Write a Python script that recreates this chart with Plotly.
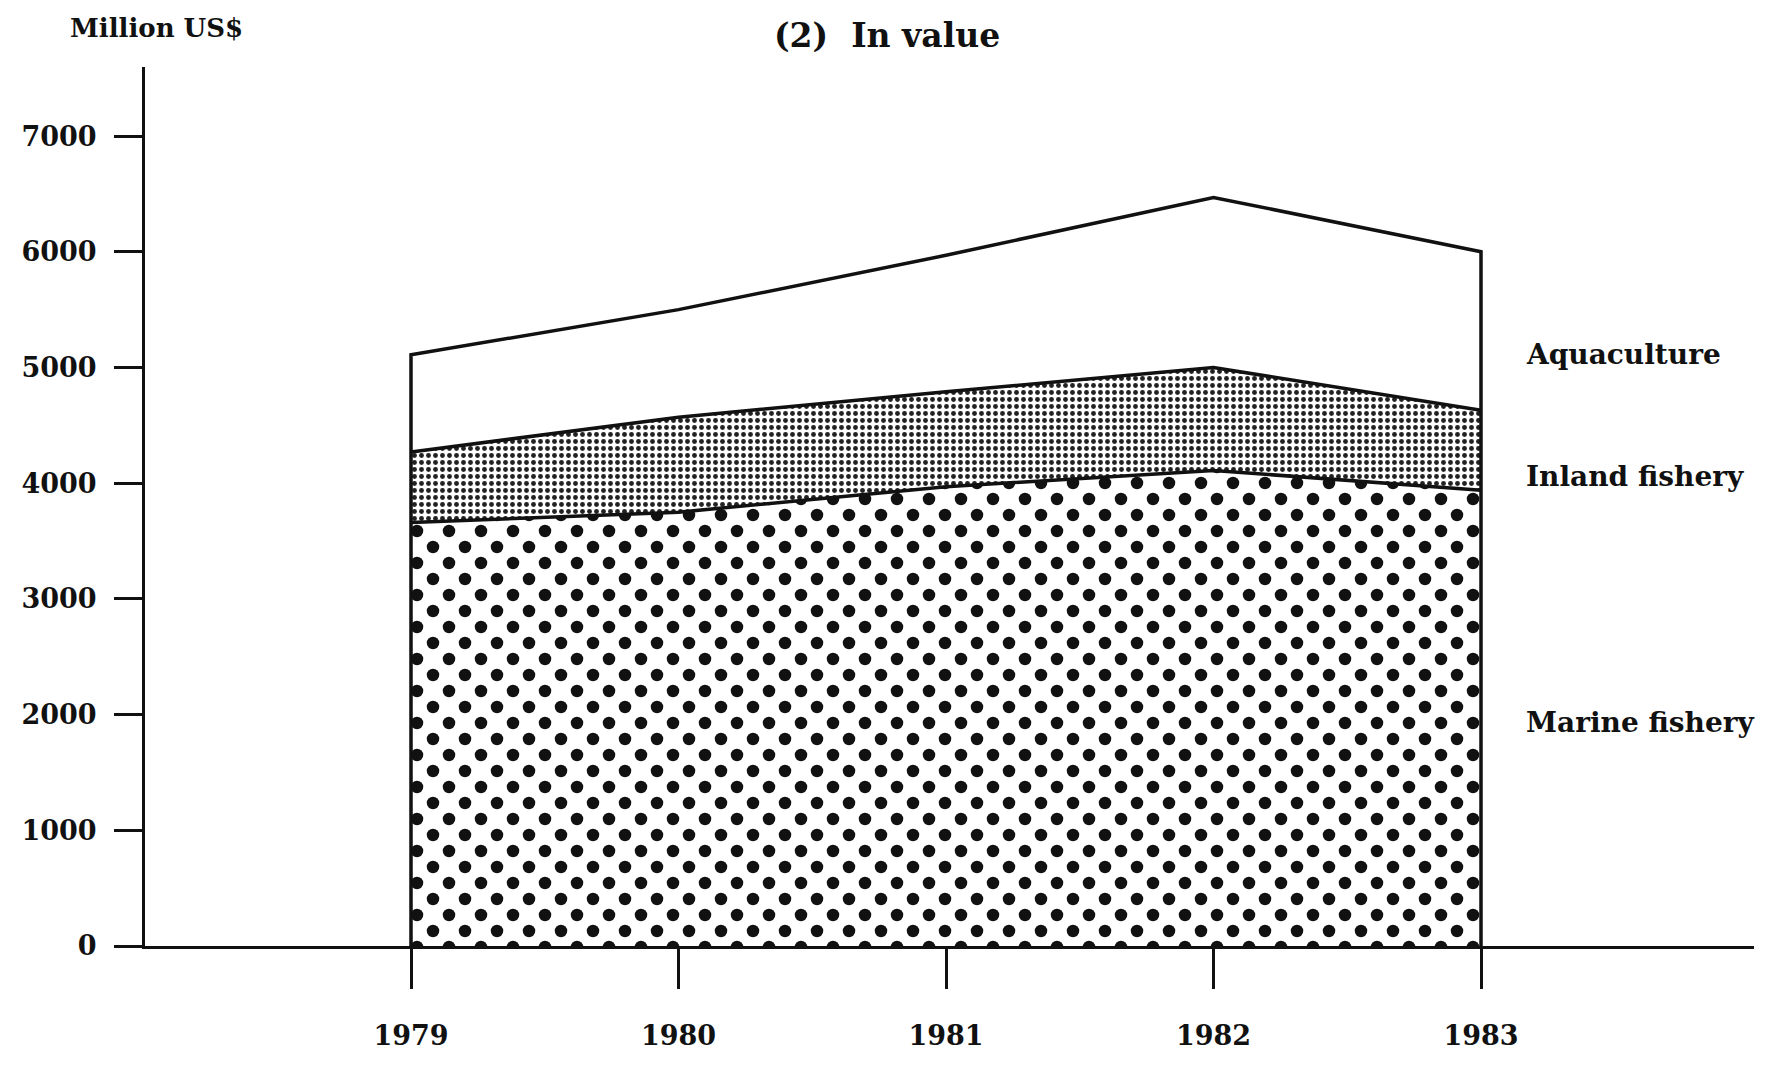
import plotly.graph_objects as go

# Data (million US$) ----------------------------------------------------------
YEARS = [1979, 1980, 1981, 1982, 1983]
MARINE = [3660, 3750, 3970, 4110, 3940]
INLAND = [610, 820, 820, 890, 690]
AQUA = [840, 930, 1180, 1470, 1370]
Y_TICKS = [0, 1000, 2000, 3000, 4000, 5000, 6000, 7000]
LABELS = ["Aquaculture", "Inland fishery", "Marine fishery"]
LABEL_Y = [5110, 4060, 1930]
TITLE = "(2)\u00a0\u00a0In value"
UNIT = "Million US$"

# Geometry (page body has an 8px margin, so the figure is 8px smaller) --------
BODY = 8
AXIS_X = 145  # y axis position in the window
W, H = 1783 - BODY, 1069 - BODY
M_L, M_R, M_T, M_B = AXIS_X - BODY, 29, 67 - BODY, 123
PW = W - M_L - M_R
PH = H - M_T - M_B
PX_PER_YEAR = 267.5
PX_PER_UNIT = 0.1157
X0 = YEARS[0] - (411 - AXIS_X) / PX_PER_YEAR
X1 = X0 + PW / PX_PER_YEAR
Y1 = PH / PX_PER_UNIT
SHIFT = 16  # second subplot offset -> staggered dot screen

FONT = "DejaVu Serif"
INK = "#111111"

inland_top = [m + i for m, i in zip(MARINE, INLAND)]
total = [t + a for t, a in zip(inland_top, AQUA)]

fig = go.Figure()

# Aquaculture band (white)
fig.add_trace(go.Scatter(
    x=YEARS, y=total, fill="tozeroy", fillcolor="white",
    mode="lines", line=dict(width=0), name=LABELS[0], showlegend=False,
))
# Inland band: fine stipple
fig.add_trace(go.Scatter(
    x=YEARS, y=inland_top, fill="tozeroy", fillcolor="white",
    fillpattern=dict(shape=".", size=7, solidity=0.38, fgcolor="#222222",
                     bgcolor="white", fillmode="replace"),
    mode="lines", line=dict(width=0), name=LABELS[1], showlegend=False,
))
# Marine band: coarse dots, first lattice
dots = dict(shape=".", size=32, solidity=0.12, fgcolor=INK, fillmode="replace")
fig.add_trace(go.Scatter(
    x=YEARS, y=MARINE, fill="tozeroy", fillcolor="white",
    fillpattern=dict(dots, bgcolor="white"),
    mode="lines", line=dict(width=0), name=LABELS[2], showlegend=False,
))
# Marine band: second lattice on the shifted subplot
fig.add_trace(go.Scatter(
    x=YEARS, y=MARINE, fill="tozeroy", fillcolor="rgba(0,0,0,0)",
    fillpattern=dict(dots, bgcolor="rgba(0,0,0,0)"),
    mode="lines", line=dict(width=0), xaxis="x2", yaxis="y2", showlegend=False,
))

# Outlines on top
line_style = dict(color=INK, width=3.5)
fig.add_trace(go.Scatter(
    x=[YEARS[0]] + YEARS + [YEARS[-1]], y=[0] + total + [0],
    mode="lines", line=line_style, xaxis="x2", yaxis="y2", showlegend=False,
))
fig.add_trace(go.Scatter(x=YEARS, y=inland_top, mode="lines", line=line_style,
                         xaxis="x2", yaxis="y2", showlegend=False))
fig.add_trace(go.Scatter(x=YEARS, y=MARINE, mode="lines", line=line_style,
                         xaxis="x2", yaxis="y2", showlegend=False))

tickfont = dict(family=FONT, size=27, color=INK, weight="bold")

fig.update_layout(
    width=W, height=H,
    margin=dict(l=M_L, r=M_R, t=M_T, b=M_B),
    paper_bgcolor="white", plot_bgcolor="rgba(0,0,0,0)",
    font=dict(family=FONT, color=INK),
    xaxis=dict(
        domain=[0, 1], range=[X0, X1],
        tickmode="array", tickvals=YEARS, ticktext=[str(y) for y in YEARS],
        ticks="outside", ticklen=40, tickwidth=3, tickcolor=INK,
        ticklabelstandoff=24,
        showline=True, linecolor=INK, linewidth=3,
        showgrid=False, zeroline=False, tickfont=tickfont,
    ),
    yaxis=dict(
        domain=[0, 1], range=[0, Y1],
        tickmode="array", tickvals=Y_TICKS,
        ticks="outside", ticklen=28, tickwidth=3, tickcolor=INK,
        ticklabelstandoff=12,
        showline=True, linecolor=INK, linewidth=3,
        showgrid=False, zeroline=False, tickfont=tickfont,
    ),
    xaxis2=dict(
        domain=[SHIFT / PW, 1], range=[X0 + SHIFT / PX_PER_YEAR, X1],
        visible=False, anchor="y2",
    ),
    yaxis2=dict(
        domain=[0, 1 - SHIFT / PH], range=[0, Y1 - SHIFT / PX_PER_UNIT],
        visible=False, anchor="x2",
    ),
    showlegend=False,
)


def px_x(px):
    return (px - AXIS_X) / PW


def px_y(py):
    return (946 - py) / PH


annotations = [
    dict(text=UNIT, xref="paper", yref="paper", x=px_x(156), y=px_y(28),
         xanchor="center", yanchor="middle", showarrow=False,
         font=dict(family=FONT, size=26, color=INK, weight="bold")),
    dict(text=TITLE, xref="paper", yref="paper", x=px_x(887), y=px_y(36),
         xanchor="center", yanchor="middle", showarrow=False,
         font=dict(family=FONT, size=33, color=INK, weight="bold")),
]
for label, ly in zip(LABELS, LABEL_Y):
    annotations.append(dict(
        text=label, xref="paper", yref="y", x=px_x(1524), y=ly,
        xanchor="left", yanchor="middle", showarrow=False,
        font=dict(family=FONT, size=28, color=INK, weight="bold"),
    ))
fig.update_layout(annotations=annotations)

fig.write_html("out.html")
